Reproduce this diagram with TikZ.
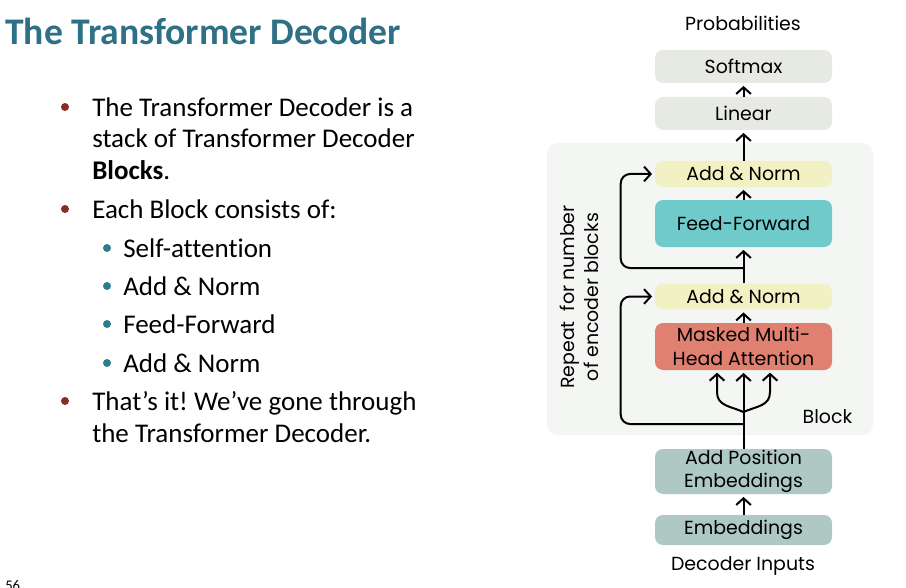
\documentclass[tikz,border=0pt]{standalone}
\usepackage{fontspec}
\setmainfont{Carlito}[Ligatures=NoCommon]
\newfontfamily\diagfont{Poppins}
\usetikzlibrary{arrows.meta, calc, positioning}
\definecolor{titleblue}{HTML}{2E7186}
\definecolor{bulletred}{HTML}{8C2B24}
\definecolor{bulletteal}{HTML}{2F7C8F}
\definecolor{blockbg}{HTML}{F4F6F3}
\definecolor{grayfill}{HTML}{E7EAE2}
\definecolor{normfill}{HTML}{F2F1C4}
\definecolor{ffnfill}{HTML}{6FCACB}
\definecolor{attnfill}{HTML}{E08070}
\definecolor{embfill}{HTML}{AEC8C4}
\tikzset{
  layer/.style={rounded corners=6pt, minimum width=132.75pt, inner sep=0pt, align=center,
    font=\diagfont\fontsize{14.2}{17.5}\selectfont},
  arr/.style={line width=1.5pt, -{Straight Barb[length=5pt,width=11pt]}, shorten >=2pt},
  bodytext/.style={anchor=base west, inner sep=0pt, font=\fontsize{20.25}{24}\selectfont},
  dotbullet/.style={circle, inner sep=0pt, minimum size=6pt},
  plainlabel/.style={font=\diagfont\fontsize{14.2}{17}\selectfont}
}
\frenchspacing
\begin{document}
\begin{tikzpicture}[x=0.75pt,y=-0.75pt]
    \useasboundingbox[fill=white] (0,0) rectangle (906,588);
    % slide text
    \node[anchor=base west, inner sep=0pt, text=titleblue, font=\bfseries\fontsize{28.2}{31}\selectfont] (title) at (5,45) {The Transformer Decoder};
    \node[dotbullet, fill=bulletred] (b1) at (65,107) {};
    \node[dotbullet, fill=bulletred] (b2) at (65,209) {};
    \node[dotbullet, fill=bulletred] (b3) at (65,401) {};
    \foreach \y in {248,286,324,363}
        \node[dotbullet, fill=bulletteal] (s\y) at (107,\y) {};
    \node[bodytext] (l1) at (92,117) {The Transformer Decoder is a};
    \node[bodytext] (l2) at (92,148) {stack of Transformer Decoder};
    \node[bodytext] (l3) at (92,180) {\textbf{Blocks}.};
    \node[bodytext] (l4) at (92,218) {Each Block consists of:};
    \node[bodytext] (l5) at (123,257) {Self-attention};
    \node[bodytext] (l6) at (123,295) {Add \& Norm};
    \node[bodytext] (l7) at (123,333) {Feed-Forward};
    \node[bodytext] (l8) at (123,372) {Add \& Norm};
    \node[bodytext] (l9) at (92,410) {That’s it! We’ve gone through};
    \node[bodytext] (l10) at (92,442) {the Transformer Decoder.};
    \node[anchor=north west, inner sep=0pt, font=\fontsize{11}{12}\selectfont] (page) at (5,580) {56};
    % decoder diagram
    \fill[blockbg, rounded corners=8pt] (547,143) rectangle (873,435);
    \node[plainlabel] (probs) at (743,23) {Probabilities};
    \node[layer, fill=grayfill, minimum height=24.75pt] (softmax) at (743.5,66.5) {Softmax};
    \node[layer, fill=grayfill, minimum height=24.75pt] (linear) at (743.5,113.5) {Linear};
    \node[layer, fill=normfill, minimum height=19.5pt] (norm2) at (743.5,174) {Add \& Norm};
    \node[layer, fill=ffnfill, minimum height=35.25pt] (ffn) at (743.5,223.5) {Feed-Forward};
    \node[layer, fill=normfill, minimum height=19.5pt] (norm1) at (743.5,296.5) {Add \& Norm};
    \node[layer, fill=attnfill, minimum height=35.25pt] (attn) at (743.5,346.5) {Masked Multi-\\Head Attention};
    \node[layer, fill=embfill, minimum height=33.75pt] (addpos) at (743.5,471.5) {Add Position\\Embeddings};
    \node[layer, fill=embfill, minimum height=22.5pt] (emb) at (743.5,530) {Embeddings};
    \node[plainlabel] (inputs) at (743,566) {Decoder Inputs};
    \node[plainlabel, anchor=east] (blocklbl) at (857,417) {Block};
    \node[plainlabel, rotate=90, align=center, font=\diagfont\fontsize{14.2}{18}\selectfont] (repeat) at (579,297) {Repeat\ \ for number\\of encoder blocks};
    \coordinate (split2) at (743.5,268);
    \coordinate (split1) at (743.5,424);
    \coordinate (fork) at (743.5,412);
    \draw[arr] (emb) -- (addpos);
    \draw[line width=1.5pt] (addpos.north) -- (fork);
    \draw[arr] (fork) -- (attn);
    \draw[arr] (fork) .. controls (730,406) and (717,406) .. (717,392) -- (717,370);
    \draw[arr] (fork) .. controls (757,406) and (770,406) .. (770,392) -- (770,370);
    \draw[arr, rounded corners=7pt] (split1) -| ($(norm1.west)+(-34,0)$) -- (norm1.west);
    \draw[arr] (attn) -- (norm1);
    \draw[arr] (norm1) -- (ffn);
    \draw[arr, rounded corners=7pt] (split2) -| ($(norm2.west)+(-34,0)$) -- (norm2.west);
    \draw[arr] (ffn) -- (norm2);
    \draw[arr] (norm2) -- (linear);
    \draw[arr] (linear) -- (softmax);
\end{tikzpicture}
\end{document}
